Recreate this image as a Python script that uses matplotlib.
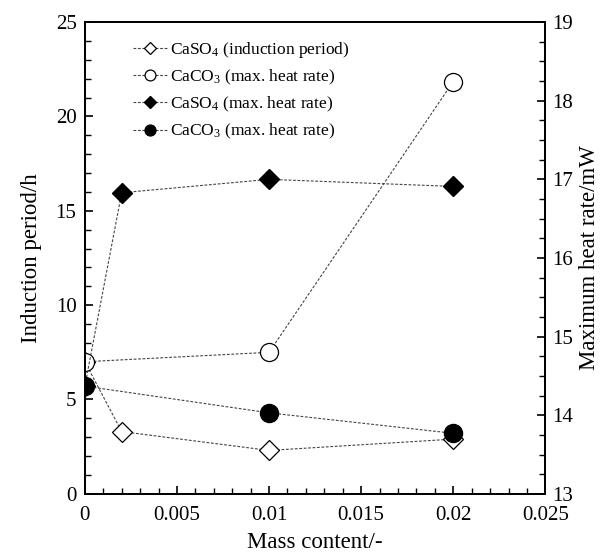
import numpy as np
import matplotlib
matplotlib.use("Agg")
import matplotlib.pyplot as plt
from matplotlib.ticker import MultipleLocator

plt.rcParams['font.family'] = ['Liberation Serif', 'DejaVu Serif']
plt.rcParams['mathtext.fontset'] = 'custom'
plt.rcParams['mathtext.rm'] = 'Liberation Serif'
plt.rcParams['mathtext.it'] = 'Liberation Serif:italic'

# data
mass_caso4 = [0, 0.002, 0.01, 0.02]
mass_caco3 = [0, 0.01, 0.02]

caso4_induction = [7.0, 3.3, 2.3, 2.9]      # left axis, h
caco3_induction = [7.0, 7.5, 21.85]          # left axis, h
caso4_heat = [14.37, 16.83, 17.0, 16.91]     # right axis, mW
caco3_heat = [14.37, 14.03, 13.77]           # right axis, mW

labels = [r'CaSO$_4$ (induction period)',
          r'CaCO$_3$ (max. heat rate)',
          r'CaSO$_4$ (max. heat rate)',
          r'CaCO$_3$ (max. heat rate)']

x_ticks = [0, 0.005, 0.01, 0.015, 0.02, 0.025]
x_ticklabels = ['0', '0.005', '0.01', '0.015', '0.02', '0.025']

fig = plt.figure(figsize=(6.06, 5.53), dpi=100)
ax = fig.add_axes([0.140, 0.107, 0.760, 0.853])
ax2 = ax.twinx()

line_kw = dict(color='#444444', linestyle=(0, (2.5, 1.5)), linewidth=0.8)

l1, = ax.plot(mass_caso4, caso4_induction, marker='D', markersize=10,
              markerfacecolor='white', markeredgecolor='black', markeredgewidth=0.9,
              **line_kw)
l2, = ax.plot(mass_caco3, caco3_induction, marker='o', markersize=13,
              markerfacecolor='white', markeredgecolor='black', markeredgewidth=0.9,
              **line_kw)
l3, = ax2.plot(mass_caso4, caso4_heat, marker='D', markersize=10,
               markerfacecolor='black', markeredgecolor='black', **line_kw)
l4, = ax2.plot(mass_caco3, caco3_heat, marker='o', markersize=13,
               markerfacecolor='black', markeredgecolor='black', **line_kw)

ax.set_xlim(0, 0.025)
ax.set_ylim(0, 25)
ax2.set_ylim(13, 19)

ax.set_xticks(x_ticks)
ax.set_xticklabels(x_ticklabels)
ax.xaxis.set_minor_locator(MultipleLocator(0.001))
ax.set_yticks(np.arange(0, 26, 5))
ax.yaxis.set_minor_locator(MultipleLocator(1))
ax2.set_yticks(np.arange(13, 20, 1))
ax2.yaxis.set_minor_locator(MultipleLocator(0.25))

for a in (ax, ax2):
    a.tick_params(which='major', direction='in', length=6, width=1.2, labelsize=15)
    a.tick_params(which='minor', direction='in', length=4, width=1.0)
    for side in ['top', 'bottom', 'left', 'right']:
        a.spines[side].set_linewidth(1.3)
ax.tick_params(axis='x', pad=9)
ax.tick_params(axis='y', pad=6)
ax2.tick_params(axis='y', pad=5)

ax.set_xlabel('Mass content/-', fontsize=16.5, labelpad=5)
ax.set_ylabel('Induction period/h', fontsize=16.5, labelpad=10)
ax2.set_ylabel('Maximum heat rate/mW', fontsize=16.5, labelpad=4)

leg = ax2.legend([l1, l2, l3, l4], labels, loc='upper left',
                 bbox_to_anchor=(0.07, 0.995), frameon=False, fontsize=12.5,
                 handlelength=2.0, handletextpad=0.15, labelspacing=0.45,
                 markerscale=0.6)

plt.savefig('out.png', dpi=100)
